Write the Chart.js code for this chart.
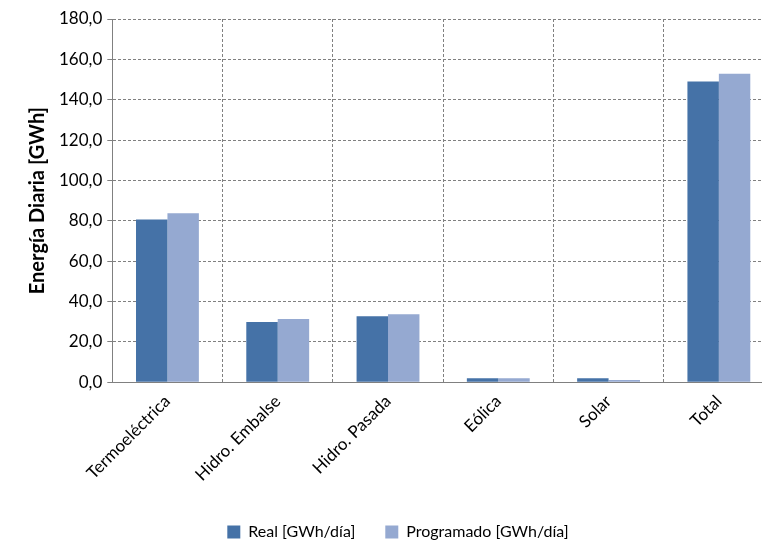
<!DOCTYPE html>
<html>
<head>
<meta charset="utf-8">
<script src="https://cdn.jsdelivr.net/npm/chart.js@4"></script>
<style>
  html, body { margin: 0; padding: 0; overflow: hidden; background: #fff; }
  #wrap { width: 790px; height: 550px; }
</style>
</head>
<body>
<div id="wrap"><canvas id="chart" width="790" height="550"></canvas></div>
<script>
const categories = ["Termoeléctrica", "Hidro. Embalse", "Hidro. Pasada", "Eólica", "Solar", "Total"];
const realValues = [80.6, 29.8, 32.7, 2.0, 2.0, 149.0];
const progValues = [83.8, 31.3, 33.7, 2.0, 1.1, 152.9];

const fontFam = "Lato, 'Open Sans', sans-serif";

new Chart(document.getElementById("chart"), {
  type: "bar",
  data: {
    labels: categories,
    datasets: [
      { label: "Real [GWh/día]", data: realValues, backgroundColor: "#4572A7" },
      { label: "Programado [GWh/día]", data: progValues, backgroundColor: "#95A9D1" }
    ]
  },
  options: {
    responsive: false,
    animation: false,
    layout: { padding: { left: 22, right: 16, top: 19, bottom: 0 } },
    datasets: { bar: { categoryPercentage: 0.57, barPercentage: 1.0 } },
    scales: {
      x: {
        grid: { color: "#808080", drawTicks: false },
        border: { color: "#808080", dash: [3, 2] },
        ticks: {
          color: "#000", maxRotation: 45, minRotation: 45, padding: 9,
          font: { family: fontFam, size: 17 }
        }
      },
      y: {
        min: 0, max: 180,
        grid: { color: "#808080", tickLength: 5 },
        border: { color: "#808080", dash: [3, 2] },
        ticks: {
          stepSize: 20, color: "#000", padding: 5,
          font: { family: fontFam, size: 17 },
          callback: v => v.toFixed(1).replace(".", ",")
        },
        title: {
          display: true, text: "Energía Diaria [GWh]", color: "#000",
          font: { family: fontFam, size: 20, weight: "bold" }
        }
      }
    },
    plugins: {
      legend: {
        position: "bottom",
        labels: {
          color: "#000", boxWidth: 13, boxHeight: 13, padding: 30,
          font: { family: fontFam, size: 16 }
        }
      },
      tooltip: { enabled: false }
    }
  }
});
</script>
</body>
</html>
